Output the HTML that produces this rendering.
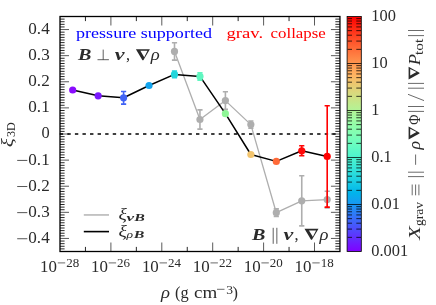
<!DOCTYPE html><html><head><meta charset="utf-8"><style>html,body{margin:0;padding:0;background:#fff}body{width:436px;height:305px;overflow:hidden}svg{will-change:transform}</style></head><body><svg width="436" height="305" viewBox="0 0 436 305" style="display:block;font-family:'Liberation Serif',serif">
<rect width="436" height="305" fill="#fff"/>
<defs><linearGradient id="cb" x1="0" y1="1" x2="0" y2="0">
<stop offset="0.0000" stop-color="rgb(128,0,255)"/>
<stop offset="0.0250" stop-color="rgb(115,20,255)"/>
<stop offset="0.0500" stop-color="rgb(102,40,254)"/>
<stop offset="0.0750" stop-color="rgb(89,60,253)"/>
<stop offset="0.1000" stop-color="rgb(76,79,252)"/>
<stop offset="0.1250" stop-color="rgb(64,98,250)"/>
<stop offset="0.1500" stop-color="rgb(51,116,248)"/>
<stop offset="0.1750" stop-color="rgb(38,133,245)"/>
<stop offset="0.2000" stop-color="rgb(25,150,243)"/>
<stop offset="0.2250" stop-color="rgb(13,166,239)"/>
<stop offset="0.2500" stop-color="rgb(0,180,236)"/>
<stop offset="0.2750" stop-color="rgb(13,194,232)"/>
<stop offset="0.3000" stop-color="rgb(25,206,227)"/>
<stop offset="0.3250" stop-color="rgb(38,217,222)"/>
<stop offset="0.3500" stop-color="rgb(51,227,217)"/>
<stop offset="0.3750" stop-color="rgb(64,236,212)"/>
<stop offset="0.4000" stop-color="rgb(77,243,206)"/>
<stop offset="0.4250" stop-color="rgb(89,248,200)"/>
<stop offset="0.4500" stop-color="rgb(102,252,194)"/>
<stop offset="0.4750" stop-color="rgb(115,254,187)"/>
<stop offset="0.5000" stop-color="rgb(128,255,180)"/>
<stop offset="0.5250" stop-color="rgb(140,254,173)"/>
<stop offset="0.5500" stop-color="rgb(153,252,166)"/>
<stop offset="0.5750" stop-color="rgb(166,248,158)"/>
<stop offset="0.6000" stop-color="rgb(178,243,150)"/>
<stop offset="0.6250" stop-color="rgb(191,236,142)"/>
<stop offset="0.6500" stop-color="rgb(204,227,133)"/>
<stop offset="0.6750" stop-color="rgb(217,217,125)"/>
<stop offset="0.7000" stop-color="rgb(229,206,116)"/>
<stop offset="0.7250" stop-color="rgb(242,194,107)"/>
<stop offset="0.7500" stop-color="rgb(255,180,98)"/>
<stop offset="0.7750" stop-color="rgb(255,166,88)"/>
<stop offset="0.8000" stop-color="rgb(255,150,79)"/>
<stop offset="0.8250" stop-color="rgb(255,133,69)"/>
<stop offset="0.8500" stop-color="rgb(255,116,60)"/>
<stop offset="0.8750" stop-color="rgb(255,98,50)"/>
<stop offset="0.9000" stop-color="rgb(255,79,40)"/>
<stop offset="0.9250" stop-color="rgb(255,60,30)"/>
<stop offset="0.9500" stop-color="rgb(255,40,20)"/>
<stop offset="0.9750" stop-color="rgb(255,20,10)"/>
<stop offset="1.0000" stop-color="rgb(255,0,0)"/>
</linearGradient></defs>
<rect x="347.1" y="16.5" width="14.199999999999989" height="235.0" fill="url(#cb)" stroke="#000" stroke-width="0.8"/>
<path d="M347.6 237.35H352.0M356.3 237.35H361.0M347.6 229.08H352.0M356.3 229.08H361.0M347.6 223.20H352.0M356.3 223.20H361.0M347.6 218.65H352.0M356.3 218.65H361.0M347.6 214.93H352.0M356.3 214.93H361.0M347.6 211.78H352.0M356.3 211.78H361.0M347.6 209.05H352.0M356.3 209.05H361.0M347.6 206.65H352.0M356.3 206.65H361.0M347.1 204.50H361.3M347.6 190.35H352.0M356.3 190.35H361.0M347.6 182.08H352.0M356.3 182.08H361.0M347.6 176.20H352.0M356.3 176.20H361.0M347.6 171.65H352.0M356.3 171.65H361.0M347.6 167.93H352.0M356.3 167.93H361.0M347.6 164.78H352.0M356.3 164.78H361.0M347.6 162.05H352.0M356.3 162.05H361.0M347.6 159.65H352.0M356.3 159.65H361.0M347.1 157.50H361.3M347.6 143.35H352.0M356.3 143.35H361.0M347.6 135.08H352.0M356.3 135.08H361.0M347.6 129.20H352.0M356.3 129.20H361.0M347.6 124.65H352.0M356.3 124.65H361.0M347.6 120.93H352.0M356.3 120.93H361.0M347.6 117.78H352.0M356.3 117.78H361.0M347.6 115.05H352.0M356.3 115.05H361.0M347.6 112.65H352.0M356.3 112.65H361.0M347.1 110.50H361.3M347.6 96.35H352.0M356.3 96.35H361.0M347.6 88.08H352.0M356.3 88.08H361.0M347.6 82.20H352.0M356.3 82.20H361.0M347.6 77.65H352.0M356.3 77.65H361.0M347.6 73.93H352.0M356.3 73.93H361.0M347.6 70.78H352.0M356.3 70.78H361.0M347.6 68.05H352.0M356.3 68.05H361.0M347.6 65.65H352.0M356.3 65.65H361.0M347.1 63.50H361.3M347.6 49.35H352.0M356.3 49.35H361.0M347.6 41.08H352.0M356.3 41.08H361.0M347.6 35.20H352.0M356.3 35.20H361.0M347.6 30.65H352.0M356.3 30.65H361.0M347.6 26.93H352.0M356.3 26.93H361.0M347.6 23.78H352.0M356.3 23.78H361.0M347.6 21.05H352.0M356.3 21.05H361.0M347.6 18.65H352.0M356.3 18.65H361.0" stroke="#000" stroke-width="0.75" fill="none"/>
<polyline points="174.50,51.40 199.95,119.50 225.40,100.60 250.85,124.60 276.30,212.70 301.75,200.80 327.20,199.60" fill="none" stroke="#aeaeae" stroke-width="1.3" stroke-linejoin="round"/>
<path d="M174.50 42.70V60.10M171.90 42.70h5.2M171.90 60.10h5.2" stroke="#aeaeae" stroke-width="1.6" fill="none"/>
<circle cx="174.50" cy="51.40" r="3.6" fill="#aeaeae"/>
<path d="M199.95 109.90V129.10M197.35 109.90h5.2M197.35 129.10h5.2" stroke="#aeaeae" stroke-width="1.6" fill="none"/>
<circle cx="199.95" cy="119.50" r="3.6" fill="#aeaeae"/>
<path d="M225.40 91.80V109.40M222.80 91.80h5.2M222.80 109.40h5.2" stroke="#aeaeae" stroke-width="1.6" fill="none"/>
<circle cx="225.40" cy="100.60" r="3.6" fill="#aeaeae"/>
<path d="M250.85 121.00V128.20M248.25 121.00h5.2M248.25 128.20h5.2" stroke="#aeaeae" stroke-width="1.6" fill="none"/>
<circle cx="250.85" cy="124.60" r="3.6" fill="#aeaeae"/>
<path d="M276.30 208.90V216.50M273.70 208.90h5.2M273.70 216.50h5.2" stroke="#aeaeae" stroke-width="1.6" fill="none"/>
<circle cx="276.30" cy="212.70" r="3.6" fill="#aeaeae"/>
<path d="M301.75 175.70V225.90M299.15 175.70h5.2M299.15 225.90h5.2" stroke="#aeaeae" stroke-width="1.6" fill="none"/>
<circle cx="301.75" cy="200.80" r="3.6" fill="#aeaeae"/>
<path d="M327.20 191.30V207.90M324.60 191.30h5.2M324.60 207.90h5.2" stroke="#aeaeae" stroke-width="1.6" fill="none"/>
<circle cx="327.20" cy="199.60" r="3.6" fill="#aeaeae"/>
<path d="M59.75 134H339.95" stroke="#000" stroke-width="1.7" stroke-dasharray="3.4 4.17" fill="none"/>
<polyline points="72.70,90.00 98.15,95.80 123.60,97.80 149.05,85.50 174.50,74.40 199.95,76.40 225.40,113.70 250.85,154.50 276.30,161.40 301.75,150.80 327.20,156.40" fill="none" stroke="#000" stroke-width="1.5" stroke-linejoin="round"/>
<circle cx="72.70" cy="90.00" r="3.6" fill="#8a0cfe"/>
<circle cx="98.15" cy="95.80" r="3.6" fill="#7a18fd"/>
<path d="M123.60 91.50V104.10M121.00 91.50h5.2M121.00 104.10h5.2" stroke="#4062f5" stroke-width="1.6" fill="none"/>
<circle cx="123.60" cy="97.80" r="3.6" fill="#4062f5"/>
<circle cx="149.05" cy="85.50" r="3.6" fill="#12a4ee"/>
<path d="M174.50 71.00V77.80M171.90 71.00h5.2M171.90 77.80h5.2" stroke="#22d6dc" stroke-width="1.6" fill="none"/>
<circle cx="174.50" cy="74.40" r="3.6" fill="#22d6dc"/>
<path d="M199.95 72.70V80.10M197.35 72.70h5.2M197.35 80.10h5.2" stroke="#60f6c0" stroke-width="1.6" fill="none"/>
<circle cx="199.95" cy="76.40" r="3.6" fill="#60f6c0"/>
<circle cx="225.40" cy="113.70" r="3.6" fill="#8ef696"/>
<circle cx="250.85" cy="154.50" r="3.6" fill="#f2c46e"/>
<circle cx="276.30" cy="161.40" r="3.6" fill="#ff6a38"/>
<path d="M301.75 145.80V155.80M299.15 145.80h5.2M299.15 155.80h5.2" stroke="#ff0808" stroke-width="1.6" fill="none"/>
<circle cx="301.75" cy="150.80" r="3.6" fill="#ff0808"/>
<path d="M327.20 105.70V207.10M324.60 105.70h5.2M324.60 207.10h5.2" stroke="#ff0000" stroke-width="1.6" fill="none"/>
<circle cx="327.20" cy="156.40" r="3.6" fill="#ff0000"/>
<path d="M60.0 248.88h4.6M339.95 248.88h-4.6M60.0 246.27h4.6M339.95 246.27h-4.6M60.0 243.66h4.6M339.95 243.66h-4.6M60.0 241.05h4.6M339.95 241.05h-4.6M60.0 235.83h4.6M339.95 235.83h-4.6M60.0 233.22h4.6M339.95 233.22h-4.6M60.0 230.61h4.6M339.95 230.61h-4.6M60.0 228.00h4.6M339.95 228.00h-4.6M60.0 225.38h4.6M339.95 225.38h-4.6M60.0 222.77h4.6M339.95 222.77h-4.6M60.0 220.16h4.6M339.95 220.16h-4.6M60.0 217.55h4.6M339.95 217.55h-4.6M60.0 214.94h4.6M339.95 214.94h-4.6M60.0 209.72h4.6M339.95 209.72h-4.6M60.0 207.11h4.6M339.95 207.11h-4.6M60.0 204.50h4.6M339.95 204.50h-4.6M60.0 201.89h4.6M339.95 201.89h-4.6M60.0 199.28h4.6M339.95 199.28h-4.6M60.0 196.66h4.6M339.95 196.66h-4.6M60.0 194.05h4.6M339.95 194.05h-4.6M60.0 191.44h4.6M339.95 191.44h-4.6M60.0 188.83h4.6M339.95 188.83h-4.6M60.0 183.61h4.6M339.95 183.61h-4.6M60.0 181.00h4.6M339.95 181.00h-4.6M60.0 178.39h4.6M339.95 178.39h-4.6M60.0 175.78h4.6M339.95 175.78h-4.6M60.0 173.16h4.6M339.95 173.16h-4.6M60.0 170.55h4.6M339.95 170.55h-4.6M60.0 167.94h4.6M339.95 167.94h-4.6M60.0 165.33h4.6M339.95 165.33h-4.6M60.0 162.72h4.6M339.95 162.72h-4.6M60.0 157.50h4.6M339.95 157.50h-4.6M60.0 154.89h4.6M339.95 154.89h-4.6M60.0 152.28h4.6M339.95 152.28h-4.6M60.0 149.67h4.6M339.95 149.67h-4.6M60.0 147.06h4.6M339.95 147.06h-4.6M60.0 144.44h4.6M339.95 144.44h-4.6M60.0 141.83h4.6M339.95 141.83h-4.6M60.0 139.22h4.6M339.95 139.22h-4.6M60.0 136.61h4.6M339.95 136.61h-4.6M60.0 131.39h4.6M339.95 131.39h-4.6M60.0 128.78h4.6M339.95 128.78h-4.6M60.0 126.17h4.6M339.95 126.17h-4.6M60.0 123.56h4.6M339.95 123.56h-4.6M60.0 120.94h4.6M339.95 120.94h-4.6M60.0 118.33h4.6M339.95 118.33h-4.6M60.0 115.72h4.6M339.95 115.72h-4.6M60.0 113.11h4.6M339.95 113.11h-4.6M60.0 110.50h4.6M339.95 110.50h-4.6M60.0 105.28h4.6M339.95 105.28h-4.6M60.0 102.67h4.6M339.95 102.67h-4.6M60.0 100.06h4.6M339.95 100.06h-4.6M60.0 97.45h4.6M339.95 97.45h-4.6M60.0 94.84h4.6M339.95 94.84h-4.6M60.0 92.22h4.6M339.95 92.22h-4.6M60.0 89.61h4.6M339.95 89.61h-4.6M60.0 87.00h4.6M339.95 87.00h-4.6M60.0 84.39h4.6M339.95 84.39h-4.6M60.0 79.17h4.6M339.95 79.17h-4.6M60.0 76.56h4.6M339.95 76.56h-4.6M60.0 73.95h4.6M339.95 73.95h-4.6M60.0 71.34h4.6M339.95 71.34h-4.6M60.0 68.72h4.6M339.95 68.72h-4.6M60.0 66.11h4.6M339.95 66.11h-4.6M60.0 63.50h4.6M339.95 63.50h-4.6M60.0 60.89h4.6M339.95 60.89h-4.6M60.0 58.28h4.6M339.95 58.28h-4.6M60.0 53.06h4.6M339.95 53.06h-4.6M60.0 50.45h4.6M339.95 50.45h-4.6M60.0 47.84h4.6M339.95 47.84h-4.6M60.0 45.23h4.6M339.95 45.23h-4.6M60.0 42.61h4.6M339.95 42.61h-4.6M60.0 40.00h4.6M339.95 40.00h-4.6M60.0 37.39h4.6M339.95 37.39h-4.6M60.0 34.78h4.6M339.95 34.78h-4.6M60.0 32.17h4.6M339.95 32.17h-4.6M60.0 26.95h4.6M339.95 26.95h-4.6M60.0 24.34h4.6M339.95 24.34h-4.6M60.0 21.73h4.6M339.95 21.73h-4.6M60.0 19.12h4.6M339.95 19.12h-4.6M85.45 16.5v4.6M85.45 251.5v-4.6M136.35 16.5v4.6M136.35 251.5v-4.6M187.25 16.5v4.6M187.25 251.5v-4.6M238.15 16.5v4.6M238.15 251.5v-4.6M289.05 16.5v4.6M289.05 251.5v-4.6" stroke="#000" stroke-width="0.85" fill="none"/>
<path d="M60.0 238.44h9M339.95 238.44h-9M60.0 212.33h9M339.95 212.33h-9M60.0 186.22h9M339.95 186.22h-9M60.0 160.11h9M339.95 160.11h-9M60.0 134.00h9M339.95 134.00h-9M60.0 107.89h9M339.95 107.89h-9M60.0 81.78h9M339.95 81.78h-9M60.0 55.67h9M339.95 55.67h-9M60.0 29.56h9M339.95 29.56h-9M110.90 16.5v9M110.90 251.5v-9M161.80 16.5v9M161.80 251.5v-9M212.70 16.5v9M212.70 251.5v-9M263.60 16.5v9M263.60 251.5v-9M314.50 16.5v9M314.50 251.5v-9" stroke="#000" stroke-width="0.65" fill="none"/>
<rect x="60.0" y="16.5" width="279.95" height="235.0" fill="none" stroke="#000" stroke-width="1.3"/>
<text x="49.70" y="242.84" font-size="16.4" text-anchor="end" textLength="21.40" lengthAdjust="spacingAndGlyphs" fill="#2b2b2b">0.4</text>
<path d="M17.2 238.74H27.3" stroke="#2b2b2b" stroke-width="0.8"/>
<text x="49.70" y="216.73" font-size="16.4" text-anchor="end" textLength="21.40" lengthAdjust="spacingAndGlyphs" fill="#2b2b2b">0.3</text>
<path d="M17.2 212.63H27.3" stroke="#2b2b2b" stroke-width="0.8"/>
<text x="49.70" y="190.62" font-size="16.4" text-anchor="end" textLength="21.40" lengthAdjust="spacingAndGlyphs" fill="#2b2b2b">0.2</text>
<path d="M17.2 186.52H27.3" stroke="#2b2b2b" stroke-width="0.8"/>
<text x="49.70" y="164.51" font-size="16.4" text-anchor="end" textLength="21.40" lengthAdjust="spacingAndGlyphs" fill="#2b2b2b">0.1</text>
<path d="M17.2 160.41H27.3" stroke="#2b2b2b" stroke-width="0.8"/>
<text x="49.70" y="138.40" font-size="16.4" text-anchor="end" fill="#2b2b2b">0</text>
<text x="49.70" y="112.29" font-size="16.4" text-anchor="end" textLength="21.40" lengthAdjust="spacingAndGlyphs" fill="#2b2b2b">0.1</text>
<text x="49.70" y="86.18" font-size="16.4" text-anchor="end" textLength="21.40" lengthAdjust="spacingAndGlyphs" fill="#2b2b2b">0.2</text>
<text x="49.70" y="60.07" font-size="16.4" text-anchor="end" textLength="21.40" lengthAdjust="spacingAndGlyphs" fill="#2b2b2b">0.3</text>
<text x="49.70" y="33.96" font-size="16.4" text-anchor="end" textLength="21.40" lengthAdjust="spacingAndGlyphs" fill="#2b2b2b">0.4</text>
<text x="40.10" y="272.30" font-size="16.4" textLength="16.90" lengthAdjust="spacingAndGlyphs" fill="#2b2b2b">10</text>
<path d="M57.80 262.9h7.4" stroke="#2b2b2b" stroke-width="0.7"/>
<text x="66.20" y="266.70" font-size="11.8" textLength="13.00" lengthAdjust="spacingAndGlyphs" fill="#2b2b2b">28</text>
<text x="91.00" y="272.30" font-size="16.4" textLength="16.90" lengthAdjust="spacingAndGlyphs" fill="#2b2b2b">10</text>
<path d="M108.70 262.9h7.4" stroke="#2b2b2b" stroke-width="0.7"/>
<text x="117.10" y="266.70" font-size="11.8" textLength="13.00" lengthAdjust="spacingAndGlyphs" fill="#2b2b2b">26</text>
<text x="141.90" y="272.30" font-size="16.4" textLength="16.90" lengthAdjust="spacingAndGlyphs" fill="#2b2b2b">10</text>
<path d="M159.60 262.9h7.4" stroke="#2b2b2b" stroke-width="0.7"/>
<text x="168.00" y="266.70" font-size="11.8" textLength="13.00" lengthAdjust="spacingAndGlyphs" fill="#2b2b2b">24</text>
<text x="192.80" y="272.30" font-size="16.4" textLength="16.90" lengthAdjust="spacingAndGlyphs" fill="#2b2b2b">10</text>
<path d="M210.50 262.9h7.4" stroke="#2b2b2b" stroke-width="0.7"/>
<text x="218.90" y="266.70" font-size="11.8" textLength="13.00" lengthAdjust="spacingAndGlyphs" fill="#2b2b2b">22</text>
<text x="243.70" y="272.30" font-size="16.4" textLength="16.90" lengthAdjust="spacingAndGlyphs" fill="#2b2b2b">10</text>
<path d="M261.40 262.9h7.4" stroke="#2b2b2b" stroke-width="0.7"/>
<text x="269.80" y="266.70" font-size="11.8" textLength="13.00" lengthAdjust="spacingAndGlyphs" fill="#2b2b2b">20</text>
<text x="294.60" y="272.30" font-size="16.4" textLength="16.90" lengthAdjust="spacingAndGlyphs" fill="#2b2b2b">10</text>
<path d="M312.30 262.9h7.4" stroke="#2b2b2b" stroke-width="0.7"/>
<text x="320.70" y="266.70" font-size="11.8" textLength="13.00" lengthAdjust="spacingAndGlyphs" fill="#2b2b2b">18</text>
<text x="371.30" y="21.30" font-size="16.4" fill="#2b2b2b">100</text>
<text x="371.30" y="68.30" font-size="16.4" fill="#2b2b2b">10</text>
<text x="371.30" y="115.30" font-size="16.4" fill="#2b2b2b">1</text>
<text x="371.30" y="162.30" font-size="16.4" fill="#2b2b2b">0.1</text>
<text x="371.30" y="209.30" font-size="16.4" fill="#2b2b2b">0.01</text>
<text x="371.30" y="256.30" font-size="16.4" fill="#2b2b2b">0.001</text>
<text x="160.90" y="298.10" font-size="16.4" font-style="italic" textLength="9.00" lengthAdjust="spacingAndGlyphs" fill="#2b2b2b">ρ</text>
<text x="175.00" y="298.10" font-size="16.4" textLength="13.60" lengthAdjust="spacingAndGlyphs" fill="#2b2b2b">(g</text>
<text x="194.00" y="298.10" font-size="16.4" textLength="23.20" lengthAdjust="spacingAndGlyphs" fill="#2b2b2b">cm</text>
<path d="M217.0 289.3h7.5" stroke="#2b2b2b" stroke-width="0.7"/>
<text x="226.30" y="293.50" font-size="12.4" textLength="6.80" lengthAdjust="spacingAndGlyphs" fill="#2b2b2b">3</text>
<text x="232.60" y="298.10" font-size="16.4" fill="#2b2b2b">)</text>
<g transform="translate(13.1,147.2) rotate(-90)">
<text x="0.00" y="0.00" font-size="16.4" font-style="italic" textLength="9.00" lengthAdjust="spacingAndGlyphs" fill="#2b2b2b">ξ</text>
<text x="10.20" y="2.00" font-size="11.8" textLength="14.60" lengthAdjust="spacingAndGlyphs" fill="#2b2b2b">3D</text>
</g>
<text x="76.00" y="37.90" font-size="14.8" textLength="136.00" lengthAdjust="spacingAndGlyphs" fill="#0000ff">pressure supported</text>
<text x="226.50" y="37.90" font-size="14.8" textLength="36.60" lengthAdjust="spacingAndGlyphs" fill="#ff0000">grav.</text>
<text x="270.60" y="37.90" font-size="14.8" textLength="55.20" lengthAdjust="spacingAndGlyphs" fill="#ff0000">collapse</text>
<text x="78.10" y="60.00" font-size="16.4" font-style="italic" font-weight="bold" textLength="13.40" lengthAdjust="spacingAndGlyphs" fill="#2b2b2b">B</text>
<path d="M97.5 59.7H108.9M103.2 59.7V49.6" stroke="#2b2b2b" stroke-width="0.75" fill="none"/>
<text x="114.80" y="60.00" font-size="16.4" font-style="italic" font-weight="bold" textLength="9.80" lengthAdjust="spacingAndGlyphs" fill="#2b2b2b">v</text>
<text x="126.00" y="60.00" font-size="16.4" fill="#2b2b2b">,</text>
<path d="M135.90 49.20L149.90 49.20L143.36 60.20L142.44 60.20ZM140.36 50.83L144.22 57.14L147.47 50.83Z" fill="#2b2b2b" fill-rule="evenodd"/>
<text x="150.80" y="60.00" font-size="16.4" font-style="italic" textLength="9.00" lengthAdjust="spacingAndGlyphs" fill="#2b2b2b">ρ</text>
<text x="252.00" y="239.60" font-size="16.4" font-style="italic" font-weight="bold" textLength="13.40" lengthAdjust="spacingAndGlyphs" fill="#2b2b2b">B</text>
<path d="M273.2 227.8V243.8M276.85 227.8V243.8" stroke="#2b2b2b" stroke-width="0.75" fill="none"/>
<text x="283.40" y="239.60" font-size="16.4" font-style="italic" font-weight="bold" textLength="9.80" lengthAdjust="spacingAndGlyphs" fill="#2b2b2b">v</text>
<text x="294.60" y="239.60" font-size="16.4" fill="#2b2b2b">,</text>
<path d="M304.50 228.80L318.50 228.80L311.96 239.80L311.04 239.80ZM308.96 230.43L312.82 236.74L316.07 230.43Z" fill="#2b2b2b" fill-rule="evenodd"/>
<text x="319.40" y="239.60" font-size="16.4" font-style="italic" textLength="9.00" lengthAdjust="spacingAndGlyphs" fill="#2b2b2b">ρ</text>
<path d="M83.8 214.95H109" stroke="#aeaeae" stroke-width="1.4"/>
<path d="M83.8 231.6H109" stroke="#000" stroke-width="1.6"/>
<text x="118.40" y="220.20" font-size="17.2" font-style="italic" textLength="8.40" lengthAdjust="spacingAndGlyphs" fill="#2b2b2b">ξ</text>
<text x="126.40" y="220.50" font-size="10.6" font-style="italic" font-weight="bold" textLength="7.60" lengthAdjust="spacingAndGlyphs" fill="#2b2b2b">v</text>
<text x="134.30" y="220.50" font-size="10.6" font-style="italic" font-weight="bold" textLength="10.60" lengthAdjust="spacingAndGlyphs" fill="#2b2b2b">B</text>
<text x="118.40" y="237.10" font-size="17.2" font-style="italic" textLength="8.40" lengthAdjust="spacingAndGlyphs" fill="#2b2b2b">ξ</text>
<text x="126.40" y="237.50" font-size="10.6" font-style="italic" textLength="6.60" lengthAdjust="spacingAndGlyphs" fill="#2b2b2b">ρ</text>
<text x="133.80" y="237.50" font-size="10.6" font-style="italic" font-weight="bold" textLength="10.60" lengthAdjust="spacingAndGlyphs" fill="#2b2b2b">B</text>
<g transform="translate(419.5,239.0) rotate(-90)">
<text x="-0.80" y="0.00" font-size="16.4" font-style="italic" textLength="13.60" lengthAdjust="spacingAndGlyphs" fill="#2b2b2b">X</text>
<text x="13.00" y="3.20" font-size="11.8" textLength="24.00" lengthAdjust="spacingAndGlyphs" fill="#2b2b2b">grav</text>
<path d="M43.7 -7.3h10.8M43.7 -3.9h10.8M43.7 -0.6h10.8" stroke="#2b2b2b" stroke-width="0.7"/>
<path d="M62.4 -11.5V4.5M66.8 -11.5V4.5" stroke="#2b2b2b" stroke-width="0.7" fill="none"/>
<path d="M74.2 -3.9h10.3" stroke="#2b2b2b" stroke-width="0.7"/>
<text x="89.60" y="0.00" font-size="16.4" font-style="italic" textLength="8.60" lengthAdjust="spacingAndGlyphs" fill="#2b2b2b">ρ</text>
<path d="M99.40 -10.90L112.40 -10.90L106.32 0.00L105.48 0.00ZM103.54 -9.29L107.12 -3.03L110.14 -9.29Z" fill="#2b2b2b" fill-rule="evenodd"/>
<text x="114.20" y="0.00" font-size="16.4" textLength="10.20" lengthAdjust="spacingAndGlyphs" fill="#2b2b2b">Φ</text>
<path d="M127.6 -11.5V4.5M132.5 -11.5V4.5" stroke="#2b2b2b" stroke-width="0.7" fill="none"/>
<path d="M138.4 4.5L144.7 -11.5" stroke="#2b2b2b" stroke-width="0.7"/>
<path d="M150.8 -11.5V4.5M155.6 -11.5V4.5" stroke="#2b2b2b" stroke-width="0.7" fill="none"/>
<path d="M159.50 -10.90L172.20 -10.90L166.26 0.00L165.44 0.00ZM163.55 -9.29L167.05 -3.03L169.99 -9.29Z" fill="#2b2b2b" fill-rule="evenodd"/>
<text x="173.80" y="0.00" font-size="16.4" font-style="italic" textLength="11.20" lengthAdjust="spacingAndGlyphs" fill="#2b2b2b">P</text>
<text x="184.00" y="3.20" font-size="11.8" textLength="16.20" lengthAdjust="spacingAndGlyphs" fill="#2b2b2b">tot</text>
<path d="M203.4 -11.5V4.5M208.5 -11.5V4.5" stroke="#2b2b2b" stroke-width="0.7" fill="none"/>
</g>
</svg></body></html>
